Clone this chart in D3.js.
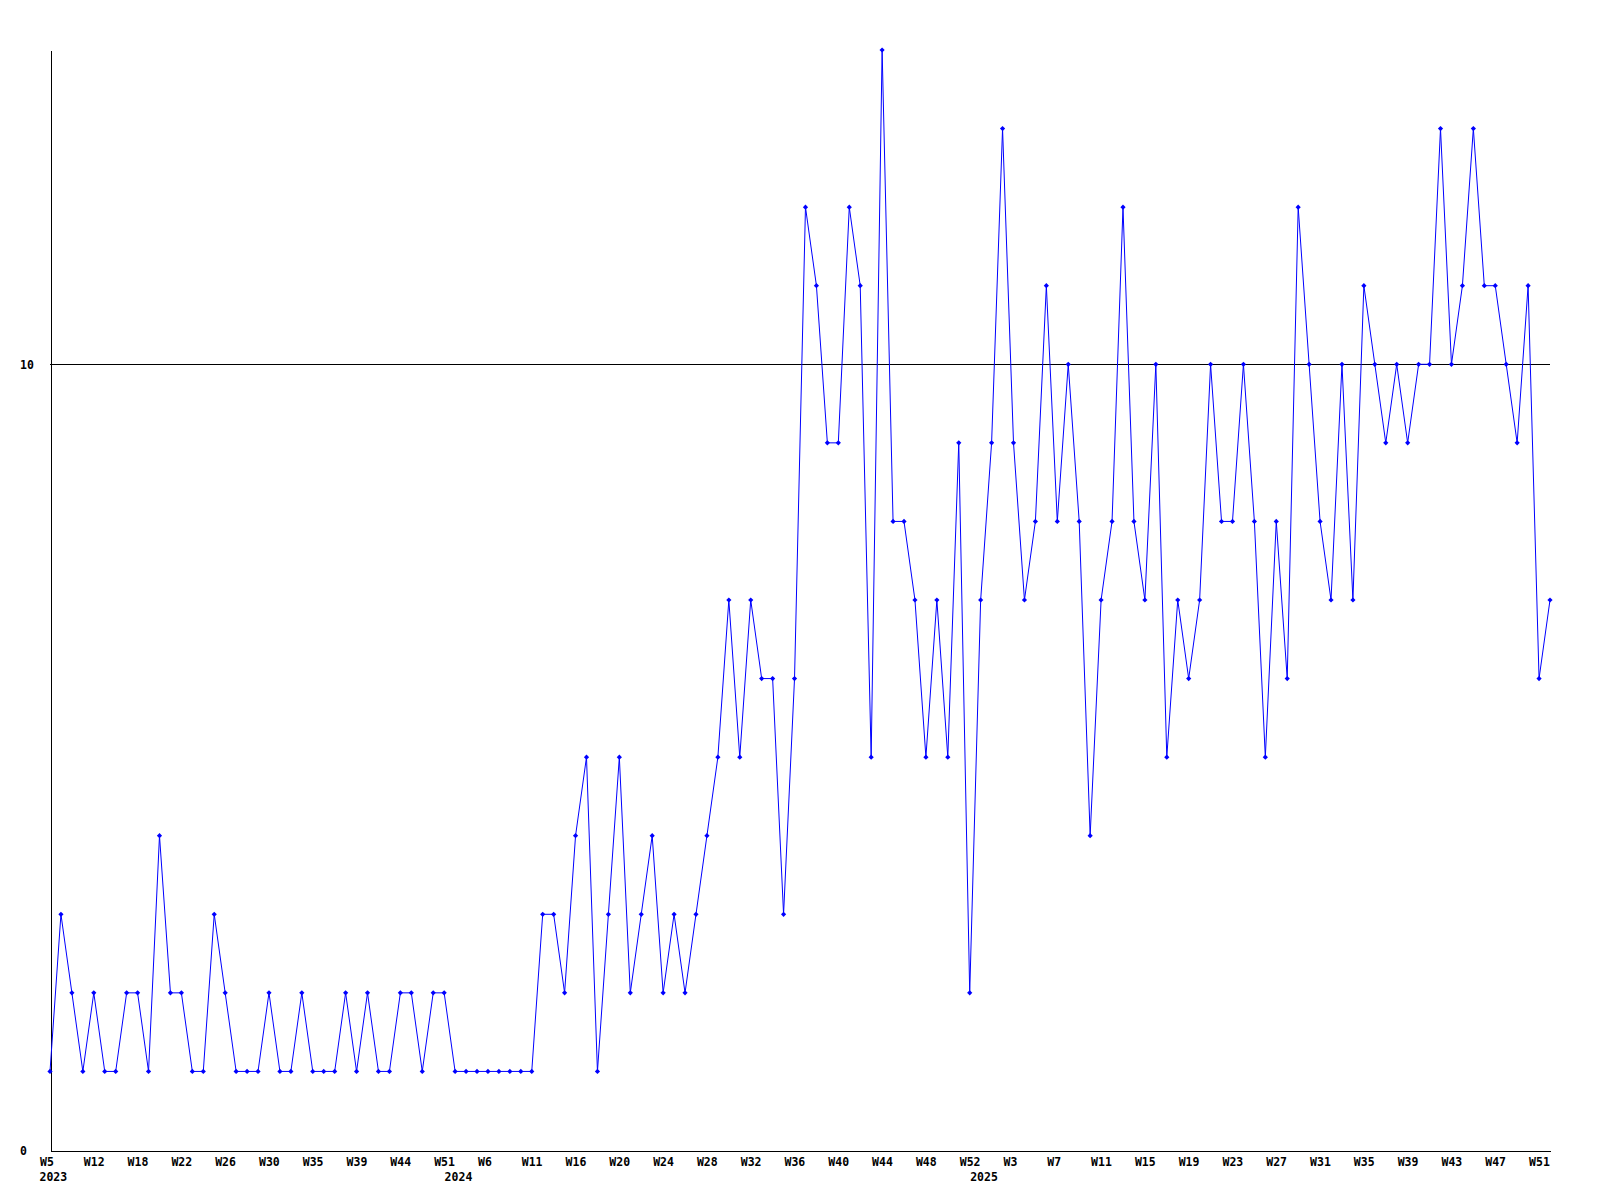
<!DOCTYPE html>
<html>
<head>
<meta charset="utf-8">
<script src="https://cdn.jsdelivr.net/npm/d3@7"></script>
<style>
  html, body { margin: 0; padding: 0; background: #ffffff; }
  svg { display: block; }
  text { font-family: "DejaVu Sans Mono", "Liberation Mono", monospace; font-weight: bold; font-size: 11.5px; fill: #000; }
</style>
</head>
<body>
<svg id="chart" width="1600" height="1200"></svg>
<script>
// Week numbers per year (weeks without data are absent)
const weeks2023 = [5, 6, 8, 10, 12, 13, 15, 16, 18, 19, 20, 21, 22, 23, 24, 25, 26, 27, 28, 29, 30, 31, 32, 34, 35, 36, 37, 38, 39, 40, 41, 43, 44, 45, 47, 49, 51];
const weeks2024 = [1, 3, 4, 6, 7, 8, 10, 11, 12, 13, 15, 16, 17, 18, 19, 20, 21, 22, 23, 24, 25, 26, 27, 28, 29, 30, 31, 32, 33, 34, 35, 36, 37, 38, 39, 40, 41, 42, 43, 44, 45, 46, 47, 48, 49, 50, 51, 52];
const weeks2025 = [0, 1, 2, 3, 4, 5, 6, 7, 8, 9, 10, 11, 12, 13, 14, 15, 16, 17, 18, 19, 20, 21, 22, 23, 24, 25, 26, 27, 28, 29, 30, 31, 32, 33, 34, 35, 36, 37, 38, 39, 40, 41, 42, 43, 44, 45, 46, 47, 48, 49, 50, 51, 52];
const years = [2023, 2024, 2025];

// Weekly values
const values2023 = [1, 3, 2, 1, 2, 1, 1, 2, 2, 1, 4, 2, 2, 1, 1, 3, 2, 1, 1, 1, 2, 1, 1, 2, 1, 1, 1, 2, 1, 2, 1, 1, 2, 2, 1, 2, 2];
const values2024 = [1, 1, 1, 1, 1, 1, 1, 1, 3, 3, 2, 4, 5, 1, 3, 5, 2, 3, 4, 2, 3, 2, 3, 4, 5, 7, 5, 7, 6, 6, 3, 6, 12, 11, 9, 9, 12, 11, 5, 14, 8, 8, 7, 5, 7, 5, 9, 2];
const values2025 = [7, 9, 13, 9, 7, 8, 11, 8, 10, 8, 4, 7, 8, 12, 8, 7, 10, 5, 7, 6, 7, 10, 8, 8, 10, 8, 5, 8, 6, 12, 10, 8, 7, 10, 7, 11, 10, 9, 10, 9, 10, 10, 13, 10, 11, 13, 11, 11, 10, 9, 11, 6, 7];

const yTicks = [0, 10];
const yMax = 14;
const gridValues = [10];

// Build table
const rows = [];
[[weeks2023, values2023], [weeks2024, values2024], [weeks2025, values2025]].forEach(([wk, vals], yi) => {
  wk.forEach((w, i) => rows.push({ key: years[yi] + "-W" + w, label: "W" + w, year: years[yi], value: vals[i] }));
});

const svg = d3.select("#chart");
const x = d3.scalePoint().domain(rows.map(d => d.key)).range([50, 1550]);
const y = d3.scaleLinear().domain([0, yMax]).range([1150, 50]);

// grid line
svg.append("g").selectAll("line").data(gridValues).join("line")
  .attr("x1", 50).attr("x2", 1550)
  .attr("y1", d => Math.round(y(d)) + 0.5).attr("y2", d => Math.round(y(d)) + 0.5)
  .attr("stroke", "#000").attr("stroke-width", 1).attr("shape-rendering", "crispEdges");

// x axis
const tickKeys = rows.filter((d, i) => i % 4 === 0).map(d => d.key);
const labelOf = new Map(rows.map(d => [d.key, d.label]));
const xAxis = svg.append("g").attr("transform", "translate(0,1150.5)")
  .call(d3.axisBottom(x).tickValues(tickKeys).tickSize(0).tickSizeOuter(0).tickPadding(0).tickFormat(k => labelOf.get(k)));
xAxis.select(".domain").attr("stroke", "#000").attr("shape-rendering", "crispEdges");
xAxis.selectAll(".tick text").attr("text-anchor", "start").attr("x", -10.5).attr("y", 15).attr("dy", 0);
xAxis.attr("font-family", null).attr("font-size", null);

// year labels at first week of each year
const firstOfYear = years.map(yr => rows.find(d => d.year === yr));
svg.append("g").selectAll("text").data(firstOfYear).join("text")
  .attr("x", d => x(d.key) - 10.5).attr("y", 1181)
  .text(d => d.year);

// y axis
const yAxis = svg.append("g").attr("transform", "translate(50.5,0)")
  .call(d3.axisLeft(y).tickValues(yTicks).tickSize(0).tickSizeOuter(0).tickFormat(d3.format("d")));
yAxis.select(".domain").attr("stroke", "#000").attr("shape-rendering", "crispEdges");
yAxis.selectAll(".tick text").attr("text-anchor", "start").attr("x", -30.5).attr("dy", "0.35em");
yAxis.attr("font-family", null).attr("font-size", null);

// line
const line = d3.line().x(d => x(d.key)).y(d => y(d.value));
svg.append("path").datum(rows)
  .attr("d", line).attr("fill", "none").attr("stroke", "#0000ff").attr("stroke-width", 1);

// markers
svg.append("g").selectAll("path").data(rows).join("path")
  .attr("transform", d => `translate(${x(d.key)},${y(d.value)})`)
  .attr("d", "M0,-2.6L2.6,0L0,2.6L-2.6,0Z")
  .attr("fill", "#0000ff");
</script>
</body>
</html>
